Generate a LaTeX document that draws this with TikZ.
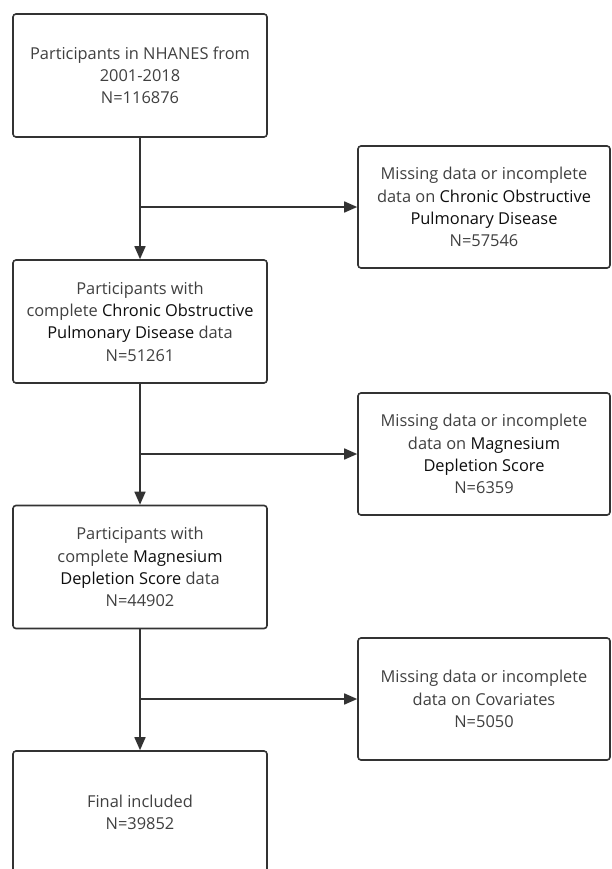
\documentclass[tikz,border=0pt]{standalone}
\usepackage{fontspec}
\setmainfont{Open Sans}
\usepackage{xcolor}
\usetikzlibrary{arrows.meta}

\definecolor{linegray}{HTML}{333333}
\definecolor{txtgray}{HTML}{404040}
\definecolor{keyblack}{HTML}{0d0d0d}
\newcommand{\keyterm}[1]{\textcolor{keyblack}{#1}}

\tikzset{
	flowbox/.style={draw=linegray, line width=1.6pt, rounded corners=3pt,
		minimum width=254pt, minimum height=123pt, align=center,
		text=txtgray, font=\fontsize{16.4}{22.3}\selectfont, inner sep=0pt},
	missbox/.style={flowbox, minimum width=252pt, minimum height=122pt},
	flowarrow/.style={draw=linegray, line width=1.6pt,
		-{Triangle[length=13pt,width=11pt]}},
}

\begin{document}
\begin{tikzpicture}[x=1pt,y=-1pt]
			% 画布范围
			\useasboundingbox (0,0) rectangle (611,869);
			\clip (0,0) rectangle (611,869);
			% 左侧主流程
			\node[flowbox] (b1) at (140,75.5) {Participants in NHANES from\\2001-2018\\N=116876};
			\node[flowbox] (b2) at (140,321.5) {Participants with\\complete \keyterm{Chronic Obstructive}\\\keyterm{Pulmonary Disease} data\\N=51261};
			\node[flowbox] (b3) at (140,567) {Participants with\\complete \keyterm{Magnesium}\\\keyterm{Depletion Score} data\\N=44902};
			\node[flowbox] (b4) at (140,812.5) {Final included\\N=39852};
			% 右侧排除
			\node[missbox] (r1) at (484,207) {Missing data or incomplete\\data on \keyterm{Chronic Obstructive}\\\keyterm{Pulmonary Disease}\\N=57546};
			\node[missbox] (r2) at (484,454) {Missing data or incomplete\\data on \keyterm{Magnesium}\\\keyterm{Depletion Score}\\N=6359};
			\node[missbox] (r3) at (484,699) {Missing data or incomplete\\data on Covariates\\N=5050};
			% 分支点
			\coordinate (j1) at (b1.south |- r1.west);
			\coordinate (j2) at (b2.south |- r2.west);
			\coordinate (j3) at (b3.south |- r3.west);
			% 连线
			\draw[flowarrow] (b1) -- (b2);
			\draw[flowarrow] (b2) -- (b3);
			\draw[flowarrow] (b3) -- (b4);
			\foreach \j/\r in {j1/r1,j2/r2,j3/r3}
			\draw[flowarrow] (\j) -- (\r.west);
\end{tikzpicture}
\end{document}
